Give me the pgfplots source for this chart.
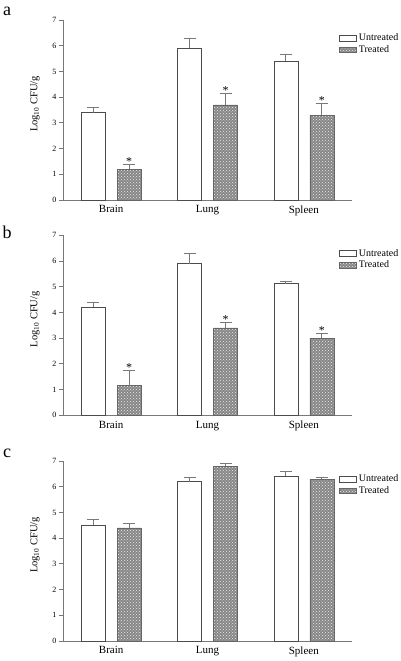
\documentclass[border=0pt]{standalone}
\usepackage{pgfplots}
\pgfplotsset{compat=1.18}
\usepackage{pgfplotstable}
\usepackage{fontspec}
\setmainfont{Liberation Serif}
\usetikzlibrary{patterns}

\pgfplotstableread{
x y e
0 3.4 0.21
1 5.9 0.38
2 5.4 0.27
}\aU
\pgfplotstableread{
x y e
0 1.2 0.18
1 3.7 0.45
2 3.3 0.45
}\aT
\pgfplotstableread{
x y e
0 4.2 0.20
1 5.9 0.38
2 5.12 0.10
}\bU
\pgfplotstableread{
x y e
0 1.15 0.58
1 3.4 0.20
2 3.0 0.18
}\bT
\pgfplotstableread{
x y e
0 4.5 0.22
1 6.2 0.15
2 6.4 0.21
}\cU
\pgfplotstableread{
x y e
0 4.4 0.18
1 6.8 0.10
2 6.3 0.07
}\cT

\definecolor{axgray}{RGB}{120,120,120}
\definecolor{bargray}{RGB}{135,135,135}

\pgfplotsset{
  panel/.style={
    scale only axis, width=289pt, height=180pt,
    xmin=-0.5, xmax=2.5, ymin=0, ymax=7,
    axis x line*=bottom, axis y line*=left,
    axis line style={axgray, line width=0.8pt},
    xtick={0,1,2}, xticklabels={Brain,Lung,Spleen},
    xtick style={draw=none},
    ytick={0,1,...,7},
    y tick style={axgray, line width=0.8pt},
    tick align=outside, major tick length=4pt,
    x tick label style={font=\fontsize{11}{13}\selectfont, yshift=2pt},
    y tick label style={font=\fontsize{8}{10}\selectfont, xshift=1pt},
    /pgf/number format/assume math mode=true,
    ylabel={Log\textsubscript{10} CFU/g},
    ylabel style={font=\fontsize{10.5}{12}\selectfont, yshift=6pt, xshift=6pt},
    ybar, bar width=24pt,
    legend style={draw=none, fill=none, font=\fontsize{10}{12}\selectfont,
      at={(1,0.94)}, anchor=north west, xshift=-14pt,
      row sep=-1pt, inner sep=1pt},
    legend cell align=left,
  },
  untr/.style={bar shift=-18pt, fill=white, draw=black!70, line width=0.6pt, area legend,
    error bars/.cd, y dir=plus, y explicit,
    error bar style={axgray, line width=0.9pt},
    error mark options={rotate=90, mark size=6pt, axgray, line width=0.9pt}},
  trt/.style={bar shift=18pt, fill=bargray, draw=black!60, line width=0.6pt, area legend,
    postaction={pattern=crosshatch dots, pattern color=white!85!gray},
    error bars/.cd, y dir=plus, y explicit,
    error bar style={axgray, line width=0.9pt},
    error mark options={rotate=90, mark size=6pt, axgray, line width=0.9pt}},
}

\begin{document}
\begin{tikzpicture}
\useasboundingbox (0,0) rectangle (400pt,-661pt);

% panel a
\begin{axis}[panel, at={(63pt,-200pt)}, anchor=south west]
\addplot[untr] table[x=x, y=y, y error=e]{\aU};
\addplot[trt] table[x=x, y=y, y error=e]{\aT};
\legend{Untreated,Treated}
\node[anchor=south, inner sep=1pt, font=\large] at (axis cs:0,1.38) [xshift=18pt, yshift=-2pt] {*};
\node[anchor=south, inner sep=1pt, font=\large] at (axis cs:1,4.15) [xshift=18pt, yshift=-2pt] {*};
\node[anchor=south, inner sep=1pt, font=\large] at (axis cs:2,3.75) [xshift=18pt, yshift=-2pt] {*};
\end{axis}

% panel b
\begin{axis}[panel, at={(63pt,-415.3pt)}, anchor=south west]
\addplot[untr] table[x=x, y=y, y error=e]{\bU};
\addplot[trt] table[x=x, y=y, y error=e]{\bT};
\legend{Untreated,Treated}
\node[anchor=south, inner sep=1pt, font=\large] at (axis cs:0,1.73) [xshift=18pt, yshift=-2pt] {*};
\node[anchor=south, inner sep=1pt, font=\large] at (axis cs:1,3.60) [xshift=18pt, yshift=-2pt] {*};
\node[anchor=south, inner sep=1pt, font=\large] at (axis cs:2,3.18) [xshift=18pt, yshift=-2pt] {*};
\end{axis}

% panel c
\begin{axis}[panel, at={(63pt,-641pt)}, anchor=south west]
\addplot[untr] table[x=x, y=y, y error=e]{\cU};
\addplot[trt] table[x=x, y=y, y error=e]{\cT};
\legend{Untreated,Treated}
\end{axis}

\node[font=\fontsize{18}{18}\selectfont] at (7pt,-11pt) {a};
\node[font=\fontsize{18}{18}\selectfont] at (7pt,-232pt) {b};
\node[font=\fontsize{18}{18}\selectfont] at (7pt,-453pt) {c};
\end{tikzpicture}
\end{document}
